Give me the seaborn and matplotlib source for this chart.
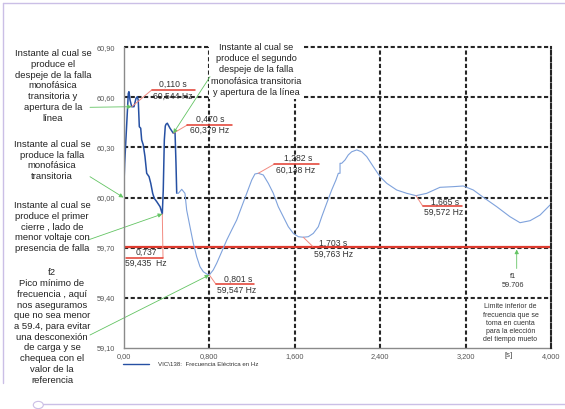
import matplotlib
matplotlib.use("Agg")
import matplotlib.pyplot as plt
import seaborn as sns
import pandas as pd
from matplotlib.lines import Line2D
from matplotlib.patches import Circle

# ---------------- data ----------------
time_s = [0.000, 0.011, 0.045, 0.051, 0.061, 0.077, 0.098, 0.117, 0.129, 0.138,
          0.148, 0.161, 0.170, 0.185, 0.201, 0.217, 0.239, 0.255, 0.273, 0.288,
          0.311, 0.342, 0.363, 0.372, 0.382, 0.391, 0.398, 0.410, 0.435, 0.466,
          0.482, 0.491, 0.498, 0.513, 0.545, 0.575, 0.591, 0.622, 0.653, 0.685,
          0.716, 0.747, 0.778, 0.803, 0.840, 0.872, 0.919, 0.966, 1.012, 1.059,
          1.106, 1.153, 1.200, 1.230, 1.261, 1.308, 1.355, 1.402, 1.448, 1.495,
          1.542, 1.589, 1.636, 1.682, 1.729, 1.776, 1.823, 1.855, 1.901, 1.948,
          1.988, 2.010, 2.026, 2.026, 2.042, 2.073, 2.103, 2.135, 2.182, 2.229,
          2.276, 2.337, 2.400, 2.463, 2.556, 2.650, 2.737, 2.837, 2.961, 3.086,
          3.179, 3.273, 3.367, 3.492, 3.616, 3.710, 3.804, 3.898, 3.991]
freq_hz = [60.000, 60.205, 60.624, 60.634, 60.584, 60.544, 60.544, 60.594, 60.604, 60.584,
           60.424, 60.415, 60.345, 60.315, 60.245, 60.145, 60.125, 60.085, 60.025, 59.995,
           59.975, 59.945, 59.901, 60.045, 60.345, 60.428, 60.439, 60.445, 60.415, 60.385,
           60.394, 60.207, 60.025, 60.025, 60.049, 60.025, 59.925, 59.825, 59.726, 59.645,
           59.585, 59.555, 59.542, 59.536, 59.566, 59.606, 59.675, 59.745, 59.805, 59.865,
           59.945, 60.025, 60.105, 60.141, 60.145, 60.135, 60.085, 60.025, 59.945, 59.885,
           59.825, 59.785, 59.765, 59.762, 59.765, 59.785, 59.825, 59.885, 59.965, 60.045,
           60.105, 60.145, 60.145, 60.205, 60.205, 60.225, 60.255, 60.274, 60.285, 60.274,
           60.245, 60.185, 60.125, 60.085, 60.045, 60.025, 60.011, 60.025, 60.061, 60.065,
           60.069, 60.045, 60.001, 59.945, 59.885, 59.849, 59.861, 59.895, 59.955]

x_ticks = [0.0, 0.8, 1.6, 2.4, 3.2, 4.0]
x_tick_labels = ["0,00", "0,800", "1,600", "2,400", "3,200", "4,000"]
y_ticks = [59.10, 59.40, 59.70, 60.00, 60.30, 60.60, 60.90]
y_tick_labels = ["59,10", "59,40", "59,70", "60,00", "60,30", "60,60", "60,90"]
f1_limit = 59.706

# point labels: (index of curve point, first line, second line)
point_labels = [
    (5, "0,110 s", "60,544 Hz"),
    (29, "0,470 s", "60,379 Hz"),
    (54, "1,282 s", "60,138 Hz"),
    (22, "0,737", "59,435  Hz"),
    (43, "0,801 s", "59,547 Hz"),
    (63, "1,703 s", "59,763 Hz"),
    (86, "1,665 s", "59,572 Hz"),
]

# ---------------- figure ----------------
sns.set_style("white")
plt.rcParams['font.family'] = ['Liberation Sans', 'DejaVu Sans']

W, H = 565, 409
L, R, T, B = 123.5, 551.0, 47.3, 347.7
fig = plt.figure(figsize=(W / 100, H / 100), dpi=100)
fig.patch.set_facecolor("white")
ax = fig.add_axes([L / W, 1 - B / H, (R - L) / W, (B - T) / H])


def d(px, py):
    return ((px - L) / (R - L) * 4.0, 60.9 - (py - T) / (B - T) * 1.8)


def fg(px, py):
    return (px / W, 1 - py / H)


ax.set_xlim(0, 4.0)
ax.set_ylim(59.10, 60.90)

GRID = dict(color="#262626", lw=1.5, ls=(0, (2, 1.2)), zorder=1)
for yv in y_ticks[1:]:
    ax.axhline(yv, clip_on=False, **GRID)
for xv in x_ticks[1:-1]:
    ax.axvline(xv, **GRID)

for s in ["left", "bottom"]:
    ax.spines[s].set_color("#8a8a8a")
    ax.spines[s].set_linewidth(1.0)
ax.spines["top"].set_visible(False)
ax.spines["right"].set_color("#262626")
ax.spines["right"].set_linewidth(1.5)
ax.spines["right"].set_linestyle((0, (2, 1.2)))
ax.spines["right"].set_zorder(2.6)

ax.set_xticks(x_ticks)
ax.set_xticklabels(x_tick_labels)
ax.set_yticks(y_ticks)
ax.set_yticklabels(y_tick_labels)
ax.tick_params(axis="both", labelsize=5.3, colors="#555555", length=0)
ax.tick_params(axis="y", pad=6)
ax.tick_params(axis="x", pad=3.5)

# limit line
ax.axhline(f1_limit, color="#dd3a2e", lw=1.6, zorder=1.8)

# curve
df = pd.DataFrame({"t": time_s, "f": freq_hz})
sns.lineplot(data=df.iloc[:33], x="t", y="f", sort=False, estimator=None,
             color="#2650a3", lw=1.1, ax=ax, zorder=2)
sns.lineplot(data=df.iloc[32:], x="t", y="f", sort=False, estimator=None,
             color="#7fa2dc", lw=0.8, ax=ax, zorder=2)
ax.set_xlabel("")
ax.set_ylabel("")

# point labels with red underline and leader
# (underline x0, x1, y, leader end x, line1 center, line2 center) in pixels
label_layout = [
    (151.7, 195.0, 90.0, 151.7, (173.0, 84.0), (173.0, 96.5)),
    (187.3, 231.7, 125.0, 187.3, (210.0, 119.3), (209.3, 130.7)),
    (274.0, 319.3, 164.3, 274.0, (298.3, 158.3), (295.3, 170.7)),
    (126.0, 163.3, 257.7, 163.0, (146.0, 252.4), (146.0, 263.0)),
    (216.0, 254.3, 284.3, 216.0, (237.7, 279.0), (236.7, 290.7)),
    (313.3, 362.0, 247.0, 313.3, (333.3, 243.5), (333.3, 254.0)),
    (422.7, 461.7, 206.0, 422.7, (445.0, 202.0), (443.3, 212.7)),
]
for (idx, l1, l2), (x0, x1, yl, xe, p1, p2) in zip(point_labels, label_layout):
    pt = (time_s[idx], freq_hz[idx])
    a = d(x0, yl)
    b = d(x1, yl)
    e = d(xe, yl)
    ax.plot([pt[0], e[0]], [pt[1], e[1]], color="#f28a80", lw=0.7, zorder=2.3)
    ax.plot([a[0], b[0]], [a[1], b[1]], color="#e23a2e", lw=1.1, zorder=2.3)
    ax.text(*d(*p1), l1, ha="center", va="center", fontsize=6.2, color="#333333", zorder=2.4)
    ax.text(*d(*p2), l2, ha="center", va="center", fontsize=6.2, color="#333333", zorder=2.4)

GREEN = "#63c463"
arrow_kw = dict(arrowstyle="-|>", color=GREEN, lw=0.6, mutation_scale=6,
                shrinkA=0, shrinkB=0)

# top-middle text box
ax.text(*d(256.5, 70.0),
        "Instante al cual se\nproduce el segundo\ndespeje de la falla\nmonofásica transitoria\ny apertura de la línea",
        ha="center", va="center", multialignment="center", fontsize=6.6, color="#222222",
        linespacing=1.3, zorder=2.2,
        bbox=dict(fc="white", ec="none", pad=2.0))
ax.annotate("", xy=(time_s[29], freq_hz[29]), xytext=d(210.0, 76.7),
            arrowprops=arrow_kw, zorder=2.5)

# lower-right box
ax.text(*d(510.5, 323.3),
        "Limite inferior de\nfrecuencia que se\ntoma en cuenta\npara la elección\ndel tiempo mueto",
        ha="center", va="center", multialignment="center", fontsize=5.0, color="#333333",
        linespacing=1.25, zorder=2.2,
        bbox=dict(fc="white", ec="none", pad=1.5))

# f1 arrow
ax.annotate("", xy=d(516.7, 249.5), xytext=d(516.7, 268.5), arrowprops=arrow_kw)
ax.text(*d(513.3, 281.0), "f1\n59.706", ha="center", va="center", fontsize=5.3,
        color="#333333", linespacing=1.3)

ax.text(*d(509.0, 355.5), "[s]", ha="center", va="center", fontsize=5.6, color="#444444",
        clip_on=False)

# left explanatory texts
left_texts = [
    ((53, 86.0), "Instante al cual se\nproduce el\ndespeje de la falla\nmonofásica\ntransitoria y\napertura de la\nlínea"),
    ((52, 160.5), "Instante al cual se\nproduce la falla\nmonofásica\ntransitoria"),
    ((52, 227.0), "Instante al cual se\nproduce el primer\ncierre , lado de\nmenor voltaje con\npresencia de falla"),
    ((52, 326.5), "f2\nPico mínimo de\nfrecuencia , aquí\nnos aseguramos\nque no sea menor\na 59.4, para evitar\nuna desconexión\nde carga y se\nchequea con el\nvalor de la\nreferencia"),
]
for (px, py), txt in left_texts:
    fig.text(*fg(px, py), txt, ha="center", va="center", multialignment="center",
             fontsize=6.8, color="#222222", linespacing=1.25)

# green arrows from left texts
green_arrows = [
    ((90.0, 107.3), (time_s[5], freq_hz[5])),
    ((90.0, 176.7), (time_s[0], freq_hz[0])),
    ((88.0, 240.0), (time_s[22], freq_hz[22])),
    ((90.0, 335.0), (time_s[43], freq_hz[43])),
]
for (px, py), target in green_arrows:
    ax.annotate("", xy=target, xycoords="data", xytext=fg(px, py),
                textcoords="figure fraction", arrowprops=arrow_kw,
                annotation_clip=False, zorder=2.5)

# legend
fig.add_artist(Line2D([123.3 / W, 149.3 / W], [1 - 364.0 / H] * 2, color="#2650a3", lw=1.0))
fig.text(*fg(158.0, 364.0), "VIC\\138:  Frecuencia Eléctrica en Hz", fontsize=4.4,
         color="#333333", va="center", ha="left")

# page frame decorations
LAV = "#cbbfe6"
fig.add_artist(Line2D([3 / W, 3 / W], [1 - 3 / H, 1 - 383 / H], color=LAV, lw=1.0))
fig.add_artist(Line2D([3 / W, 1.0], [1 - 3 / H, 1 - 3 / H], color=LAV, lw=1.0))
fig.add_artist(Line2D([43 / W, 1.0], [1 - 404.3 / H] * 2, color=LAV, lw=1.0))
fig.add_artist(Circle(fg(38.3, 405.0), 5 / W, transform=fig.transFigure,
                      fc="white", ec=LAV, lw=0.8))

fig.savefig("out.png", dpi=100, facecolor="white")
